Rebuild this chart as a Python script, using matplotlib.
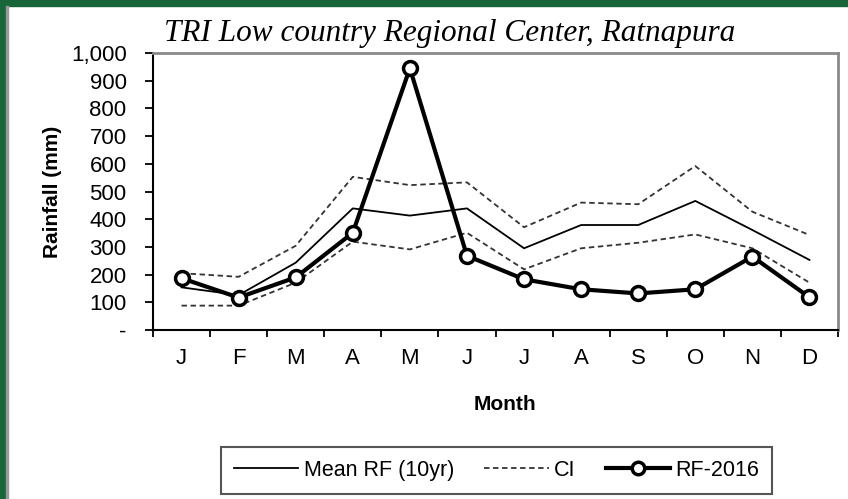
import numpy as np
import matplotlib
matplotlib.use('Agg')
from matplotlib import pyplot as plt
from matplotlib.lines import Line2D
from matplotlib.patches import Rectangle
from matplotlib.ticker import FuncFormatter, FixedLocator

months = ['J', 'F', 'M', 'A', 'M', 'J', 'J', 'A', 'S', 'O', 'N', 'D']
mean_rf = [154, 126, 243, 439, 413, 439, 295, 379, 379, 466, 361, 253]
ci_upper = [205, 192, 304, 553, 523, 533, 371, 460, 454, 592, 427, 343]
ci_lower = [88, 88, 171, 319, 291, 351, 219, 295, 315, 345, 295, 171]
rf_2016 = [187, 117, 190, 351, 945, 268, 183, 147, 132, 147, 265, 118]

plt.rcParams['font.family'] = ['Liberation Sans', 'DejaVu Sans']

fig = plt.figure(figsize=(8.48, 4.99), dpi=100)
ax = fig.add_axes([153/848, 1 - 330/499, (838-153)/848, (330-53)/499])

x = np.arange(len(months))
ax.plot(x, mean_rf, color='black', lw=1.3, label='Mean RF (10yr)')
ax.plot(x, ci_upper, color='#333333', lw=1.3, ls=(0, (3, 2)), label='CI')
ax.plot(x, ci_lower, color='#333333', lw=1.3, ls=(0, (3, 2)))
ax.plot(x, rf_2016, color='black', lw=3, marker='o', ms=10, mfc='white',
        mec='black', mew=2.5, label='RF-2016', zorder=5)

ax.set_xlim(-0.5, 11.5)
ax.set_ylim(0, 1000)
ax.set_xticks(x)
ax.set_xticklabels(months, fontsize=16)
ax.tick_params(axis='x', which='major', length=0, pad=13)
ax.xaxis.set_minor_locator(FixedLocator(np.arange(-0.5, 12, 1)))
ax.tick_params(axis='x', which='minor', length=5, width=1.3, direction='out')
ax.set_yticks(np.arange(0, 1001, 100))
ax.yaxis.set_major_formatter(FuncFormatter(lambda v, p: '-' if v == 0 else f'{int(v):,}'))
ax.tick_params(axis='y', length=6, width=1.3, labelsize=16, pad=13)

for s in ['top', 'right']:
    ax.spines[s].set_color('#8a8a8a')
    ax.spines[s].set_linewidth(2)
for s in ['left', 'bottom']:
    ax.spines[s].set_color('black')
    ax.spines[s].set_linewidth(1.5)

fig.text(450/848, 1 - 33/499, 'TRI Low country Regional Center, Ratnapura',
         family='Liberation Serif', style='italic', fontsize=22.5, ha='center', va='center')
fig.text(52/848, 1 - 192/499, 'Rainfall (mm)', rotation=90, fontsize=15,
         fontweight='bold', ha='center', va='center')
fig.text(505/848, 1 - 404/499, 'Month', fontsize=15, fontweight='bold',
         ha='center', va='center')

handles = [Line2D([], [], color='black', lw=1.3),
           Line2D([], [], color='#333333', lw=1.3, ls=(0, (3, 2))),
           Line2D([], [], color='black', lw=3, marker='o', ms=9, mfc='white', mec='black', mew=2.5)]
leg = fig.legend(handles, ['Mean RF (10yr)', 'CI', 'RF-2016'], ncol=3,
                 loc='center', bbox_to_anchor=((225+768)/2/848, 1 - 470.5/499),
                 fontsize=15.5, fancybox=False, edgecolor='#555555', framealpha=1,
                 handlelength=3.0, columnspacing=1.4, handletextpad=0.25,
                 borderpad=0.6)
leg.get_frame().set_linewidth(1.5)

# green frame of the page
fig.patches.append(Rectangle((0, 0), 6/848, 1, transform=fig.transFigure,
                             color='#17663a', zorder=10))
fig.patches.append(Rectangle((0, 1 - 6/499), 1, 6/499, transform=fig.transFigure,
                             color='#17663a', zorder=10))
fig.patches.append(Rectangle((6/848, 0), 1.5/848, 1 - 6/499, transform=fig.transFigure,
                             color='#999999', zorder=10))

fig.savefig('out.png', dpi=100)
